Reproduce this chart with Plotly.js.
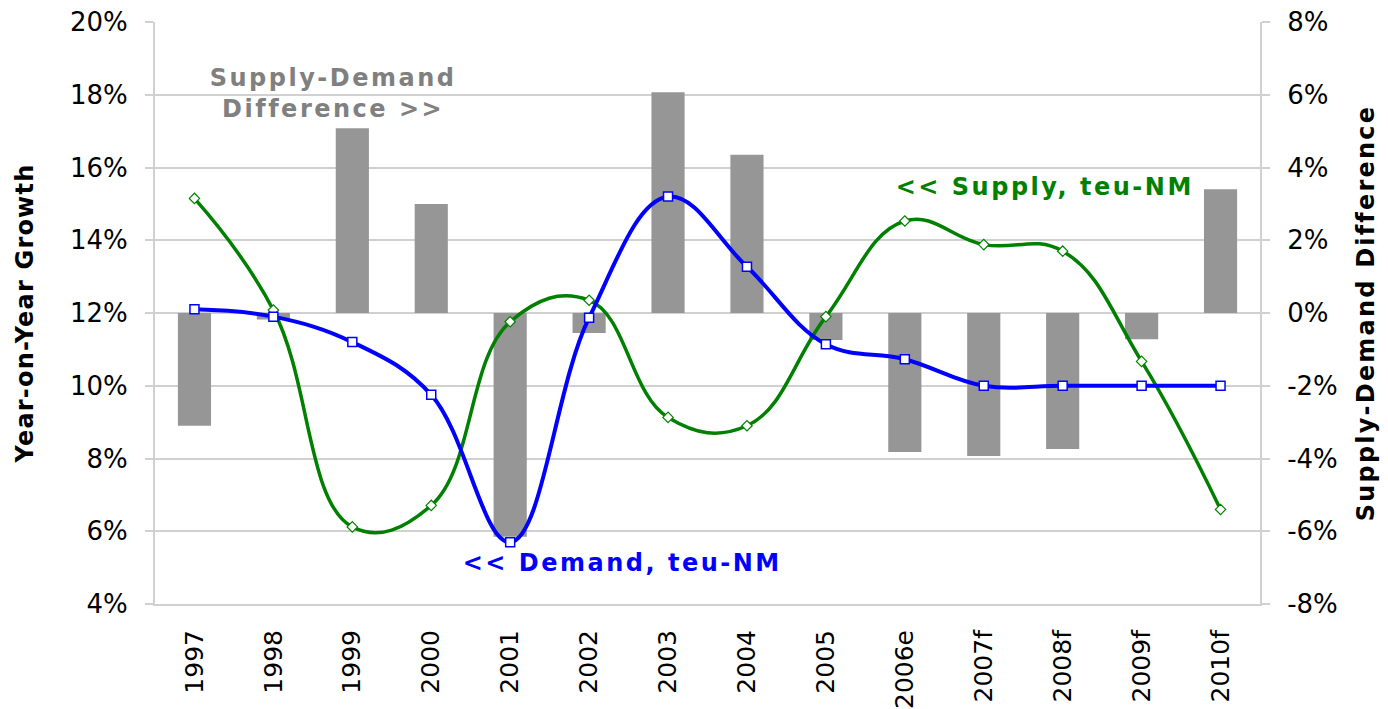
<!DOCTYPE html>
<html>
<head>
<meta charset="utf-8">
<script src="https://cdn.plot.ly/plotly-3.0.1.min.js"></script>
<style>
html,body{margin:0;padding:0;background:#fff;}
#chart{width:1388px;height:709px;}
#chart .annotation-text{letter-spacing:2.5px;}
#chart .g-ytitle text{letter-spacing:2.2px;}
#chart .g-y2title text{letter-spacing:1.2px;}
</style>
</head>
<body>
<div id="chart"></div>
<script>
const categories = ['1997','1998','1999','2000','2001','2002','2003','2004','2005','2006e','2007f','2008f','2009f','2010f'];
const demandGrowth = [12.1, 11.9, 11.2, 9.75, 5.7, 11.87, 15.2, 13.27, 11.14, 10.73, 10.0, 10.0, 10.0, 10.0];
const supplyGrowth = [15.15, 12.08, 6.12, 6.71, 11.76, 12.35, 9.13, 8.9, 11.9, 14.53, 13.88, 13.7, 10.67, 6.6];
const supplyDemandDiff = [-3.1, -0.18, 5.08, 3.0, -6.15, -0.55, 6.07, 4.35, -0.74, -3.82, -3.93, -3.74, -0.72, 3.4];
const leftTickVals = [4,6,8,10,12,14,16,18,20];
const leftTickText = ['4%','6%','8%','10%','12%','14%','16%','18%','20%'];
const rightTickVals = [-8,-6,-4,-2,0,2,4,6,8];
const rightTickText = ['-8%','-6%','-4%','-2%','0%','2%','4%','6%','8%'];

const FONT = 'Verdana, "DejaVu Sans", sans-serif';
const GRID = '#d0d0d0';

const traces = [
  {
    type: 'bar', x: categories, y: supplyDemandDiff, yaxis: 'y',
    marker: {color: '#969696', line: {width: 0}}, width: 0.42,
    hoverinfo: 'skip', showlegend: false
  },
  {
    type: 'scatter', mode: 'lines+markers', x: categories, y: supplyGrowth, yaxis: 'y2',
    line: {color: '#008000', width: 3.5, shape: 'spline', smoothing: 1.2},
    marker: {symbol: 'diamond', size: 8, color: '#ffffff', line: {color: '#008000', width: 1.2}},
    showlegend: false
  },
  {
    type: 'scatter', mode: 'lines+markers', x: categories, y: demandGrowth, yaxis: 'y2',
    line: {color: '#0000ff', width: 4, shape: 'spline', smoothing: 1.1},
    marker: {symbol: 'square', size: 9, color: '#ffffff', line: {color: '#0000ff', width: 1.5}},
    showlegend: false
  }
];

const layout = {
  width: 1388, height: 709,
  margin: {l: 155, r: 128, t: 22, b: 105, autoexpand: false},
  paper_bgcolor: '#ffffff', plot_bgcolor: '#ffffff',
  font: {family: FONT, size: 25, color: '#000000'},
  xaxis: {
    type: 'category', range: [-0.5, 13.5],
    showline: true, linecolor: GRID, linewidth: 2,
    showgrid: false, ticks: '', tickangle: -90,
    tickfont: {family: FONT, size: 25, color: '#000'},
    ticklabelstandoff: 14, automargin: false
  },
  yaxis: {
    side: 'right', range: [-8, 8],
    tickvals: rightTickVals, ticktext: rightTickText,
    showgrid: true, gridcolor: GRID, gridwidth: 2, zeroline: false,
    showline: true, linecolor: GRID, linewidth: 2,
    ticks: 'outside', ticklen: 8, tickcolor: GRID, tickwidth: 2,
    tickfont: {family: FONT, size: 26, color: '#000'},
    ticklabelstandoff: 12,
    title: {text: 'Supply-Demand Difference', font: {family: FONT, size: 24, color: '#000', weight: 'bold'}, standoff: 20},
    automargin: false, fixedrange: true
  },
  yaxis2: {
    overlaying: 'y', side: 'left', range: [4, 20],
    tickvals: leftTickVals, ticktext: leftTickText,
    showgrid: false, zeroline: false,
    showline: true, linecolor: GRID, linewidth: 2,
    ticks: 'outside', ticklen: 8, tickcolor: GRID, tickwidth: 2,
    tickfont: {family: FONT, size: 26, color: '#000'},
    ticklabelstandoff: 12,
    title: {text: 'Year-on-Year Growth', font: {family: FONT, size: 24, color: '#000', weight: 'bold'}, standoff: 30},
    automargin: false, fixedrange: true
  },
  annotations: [
    {xref: 'paper', yref: 'paper', x: 0.161, y: 0.878, xanchor: 'center', yanchor: 'middle', showarrow: false, align: 'center',
     text: 'Supply-Demand<br>Difference >>', font: {family: FONT, size: 24, color: '#808080', weight: 'bold'}},
    {xref: 'paper', yref: 'paper', x: 0.805, y: 0.7165, xanchor: 'center', yanchor: 'middle', showarrow: false,
     text: '<< Supply, teu-NM', font: {family: FONT, size: 24, color: '#008000', weight: 'bold'}},
    {xref: 'paper', yref: 'paper', x: 0.423, y: 0.0704, xanchor: 'center', yanchor: 'middle', showarrow: false,
     text: '<< Demand, teu-NM', font: {family: FONT, size: 24, color: '#0000ff', weight: 'bold'}}
  ]
};

Plotly.newPlot('chart', traces, layout, {staticPlot: true, displayModeBar: false});
</script>
</body>
</html>
